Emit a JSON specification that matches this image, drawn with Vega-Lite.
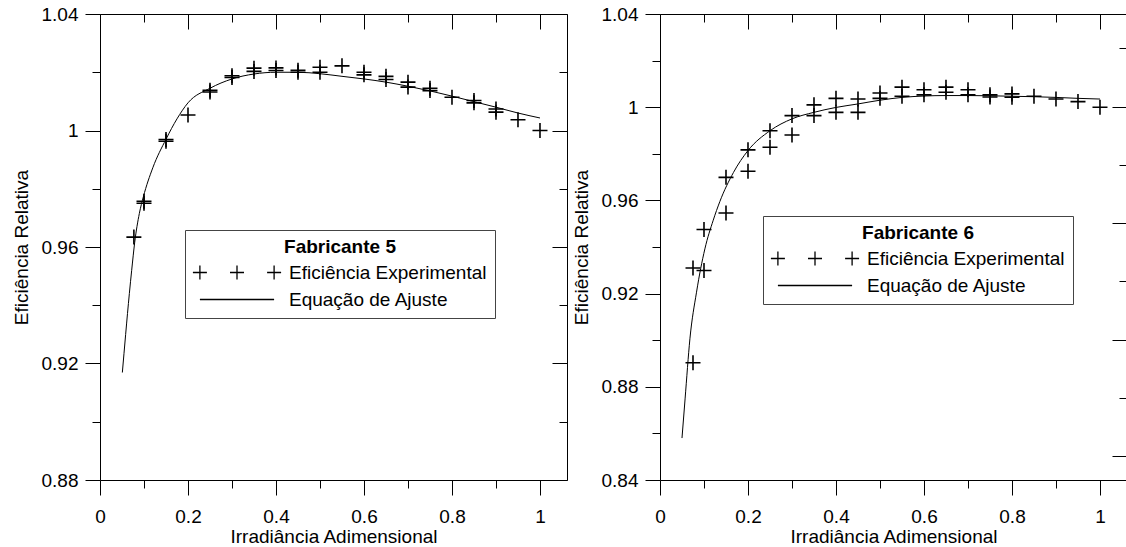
{
  "$schema": "https://vega.github.io/schema/vega-lite/v6.json",
  "background": "white",
  "padding": {"left": 12, "top": 5, "right": 0, "bottom": 0},
  "spacing": 4,
  "config": {
    "font": "Liberation Sans",
    "view": {"stroke": null},
    "axis": {
      "grid": false,
      "domainColor": "black",
      "domainWidth": 1,
      "tickColor": "black",
      "tickWidth": 1,
      "labelColor": "black",
      "titleColor": "black",
      "labelFont": "Liberation Sans",
      "titleFont": "Liberation Sans",
      "labelFontSize": 19,
      "titleFontSize": 19,
      "titleFontWeight": "normal",
      "labelFlush": false,
      "labelOverlap": false
    },
    "legend": {
      "orient": "none",
      "titleAnchor": "middle",
      "titleFont": "Liberation Sans",
      "titleFontSize": 19,
      "titleFontWeight": "bold",
      "titleColor": "black",
      "titlePadding": 6,
      "labelFont": "Liberation Sans",
      "labelFontSize": 19,
      "labelColor": "black",
      "labelLimit": 400,
      "symbolOffset": 34.5,
      "labelOffset": 42.5,
      "symbolSize": 196,
      "symbolStrokeWidth": 1.3,
      "symbolStrokeColor": "black",
      "symbolFillColor": "transparent",
      "symbolOpacity": 1,
      "strokeColor": "#444",
      "fillColor": "white",
      "padding": 8,
      "rowPadding": 7
    }
  },
  "resolve": {"scale": {"shape": "independent"}, "legend": {"shape": "independent"}},
  "datasets": {
    "fit5": [
      {"x": 0.0508, "y": 0.9169}, {"x": 0.0583, "y": 0.93}, {"x": 0.0667, "y": 0.944}, {"x": 0.072, "y": 0.952},
      {"x": 0.0788, "y": 0.9615}, {"x": 0.0894, "y": 0.9715}, {"x": 0.0985, "y": 0.9772}, {"x": 0.12, "y": 0.9872},
      {"x": 0.15, "y": 0.997}, {"x": 0.175, "y": 1.004}, {"x": 0.2, "y": 1.0095}, {"x": 0.25, "y": 1.0145},
      {"x": 0.3, "y": 1.0177}, {"x": 0.35, "y": 1.0194}, {"x": 0.4, "y": 1.02}, {"x": 0.45, "y": 1.02},
      {"x": 0.5, "y": 1.0195}, {"x": 0.55, "y": 1.0186}, {"x": 0.6, "y": 1.0177}, {"x": 0.65, "y": 1.0166},
      {"x": 0.7, "y": 1.0152}, {"x": 0.75, "y": 1.0136}, {"x": 0.8, "y": 1.0118}, {"x": 0.85, "y": 1.0099},
      {"x": 0.9, "y": 1.008}, {"x": 0.95, "y": 1.006}, {"x": 1.0, "y": 1.0043}
    ],
    "exp5": [
      {"x": 0.077, "y": 0.9634},
      {"x": 0.1, "y": 0.9757}, {"x": 0.1, "y": 0.975},
      {"x": 0.15, "y": 0.9969}, {"x": 0.15, "y": 0.9963},
      {"x": 0.2, "y": 1.0053},
      {"x": 0.25, "y": 1.0138}, {"x": 0.25, "y": 1.0132},
      {"x": 0.3, "y": 1.0188}, {"x": 0.3, "y": 1.0182},
      {"x": 0.35, "y": 1.0214}, {"x": 0.35, "y": 1.0203},
      {"x": 0.4, "y": 1.0215}, {"x": 0.4, "y": 1.0206},
      {"x": 0.45, "y": 1.0207}, {"x": 0.45, "y": 1.02},
      {"x": 0.5, "y": 1.0217}, {"x": 0.5, "y": 1.02},
      {"x": 0.55, "y": 1.0222},
      {"x": 0.6, "y": 1.02}, {"x": 0.6, "y": 1.0191},
      {"x": 0.65, "y": 1.0186}, {"x": 0.65, "y": 1.0175},
      {"x": 0.7, "y": 1.0166}, {"x": 0.7, "y": 1.0149},
      {"x": 0.75, "y": 1.0145}, {"x": 0.75, "y": 1.0137},
      {"x": 0.8, "y": 1.0114},
      {"x": 0.85, "y": 1.0103}, {"x": 0.85, "y": 1.0095},
      {"x": 0.9, "y": 1.0074}, {"x": 0.9, "y": 1.0063},
      {"x": 0.95, "y": 1.0037},
      {"x": 1.0, "y": 1.0}
    ],
    "fit6": [
      {"x": 0.05, "y": 0.858}, {"x": 0.057, "y": 0.8748}, {"x": 0.068, "y": 0.9006}, {"x": 0.083, "y": 0.9206},
      {"x": 0.102, "y": 0.9392}, {"x": 0.121, "y": 0.9515}, {"x": 0.136, "y": 0.9595}, {"x": 0.167, "y": 0.972},
      {"x": 0.2, "y": 0.9814}, {"x": 0.25, "y": 0.9899}, {"x": 0.3, "y": 0.995}, {"x": 0.35, "y": 0.9978},
      {"x": 0.4, "y": 0.9999}, {"x": 0.45, "y": 1.0014}, {"x": 0.5, "y": 1.003}, {"x": 0.55, "y": 1.0042},
      {"x": 0.6, "y": 1.0048}, {"x": 0.65, "y": 1.005}, {"x": 0.7, "y": 1.005}, {"x": 0.75, "y": 1.0049},
      {"x": 0.8, "y": 1.0047}, {"x": 0.85, "y": 1.0045}, {"x": 0.9, "y": 1.0042}, {"x": 0.95, "y": 1.0038},
      {"x": 1.0, "y": 1.0035}
    ],
    "exp6": [
      {"x": 0.075, "y": 0.8903}, {"x": 0.075, "y": 0.931},
      {"x": 0.1, "y": 0.9299}, {"x": 0.1, "y": 0.9475},
      {"x": 0.15, "y": 0.9546}, {"x": 0.15, "y": 0.9699},
      {"x": 0.2, "y": 0.9725}, {"x": 0.2, "y": 0.9817},
      {"x": 0.25, "y": 0.9828}, {"x": 0.25, "y": 0.9899},
      {"x": 0.3, "y": 0.9881}, {"x": 0.3, "y": 0.9964},
      {"x": 0.35, "y": 0.9964}, {"x": 0.35, "y": 1.001},
      {"x": 0.4, "y": 0.9978}, {"x": 0.4, "y": 1.0038},
      {"x": 0.45, "y": 0.9978}, {"x": 0.45, "y": 1.0035},
      {"x": 0.5, "y": 1.0038}, {"x": 0.5, "y": 1.0061},
      {"x": 0.55, "y": 1.0047}, {"x": 0.55, "y": 1.0086},
      {"x": 0.6, "y": 1.0053}, {"x": 0.6, "y": 1.0075},
      {"x": 0.65, "y": 1.0064}, {"x": 0.65, "y": 1.0086},
      {"x": 0.7, "y": 1.0053}, {"x": 0.7, "y": 1.0075},
      {"x": 0.75, "y": 1.0044}, {"x": 0.75, "y": 1.0053},
      {"x": 0.8, "y": 1.0043}, {"x": 0.8, "y": 1.0057},
      {"x": 0.85, "y": 1.0047},
      {"x": 0.9, "y": 1.0035},
      {"x": 0.95, "y": 1.0024},
      {"x": 1.0, "y": 1.0}
    ]
  },
  "hconcat": [
    {
      "width": 467,
      "height": 466,
      "resolve": {"scale": {"y": "independent"}, "axis": {"x": "independent", "y": "independent"}},
      "layer": [
        {
          "data": {"name": "fit5"},
          "mark": {"type": "line", "color": "black", "strokeWidth": 1, "interpolate": "monotone"},
          "encoding": {
            "x": {"field": "x", "type": "quantitative",
              "scale": {"domain": [0, 1.0614], "nice": false, "zero": false},
              "axis": {"orient": "bottom", "values": [0, 0.1, 0.2, 0.3, 0.4, 0.5, 0.6, 0.7, 0.8, 0.9, 1],
                "title": "Irradiância Adimensional",
                "tickSize": {"condition": {"test": "abs(datum.value/0.2 - round(datum.value/0.2)) < 0.01", "value": 15}, "value": 8},
                "labelExpr": "abs(datum.value/0.2 - round(datum.value/0.2)) < 0.01 ? format(datum.value, '.1~f') : ''",
                "labelPadding": 12, "titlePadding": 1}},
            "y": {"field": "y", "type": "quantitative",
              "scale": {"domain": [0.88, 1.04], "nice": false, "zero": false},
              "axis": {"orient": "left", "values": [0.88, 0.9, 0.92, 0.94, 0.96, 0.98, 1, 1.02, 1.04],
                "title": "Eficiência Relativa",
                "tickSize": {"condition": {"test": "abs(datum.value/0.04 - round(datum.value/0.04)) < 0.01", "value": 15}, "value": 8},
                "labelExpr": "abs(datum.value/0.04 - round(datum.value/0.04)) < 0.01 ? format(datum.value, '.2~f') : ''",
                "labelPadding": 7, "titlePadding": 10}}
          }
        },
        {
          "data": {"name": "exp5"},
          "mark": {"type": "point", "shape": "M-1,0H1M0,-1V1", "size": 225, "filled": false, "color": "black", "strokeWidth": 1.6, "opacity": 1},
          "encoding": {
            "x": {"field": "x", "type": "quantitative",
              "scale": {"domain": [0, 1.0614], "nice": false, "zero": false},
              "axis": {"orient": "top", "values": [0, 0.1, 0.2, 0.3, 0.4, 0.5, 0.6, 0.7, 0.8, 0.9, 1],
                "title": null, "labels": false,
                "tickSize": {"condition": {"test": "abs(datum.value/0.2 - round(datum.value/0.2)) < 0.01", "value": -15}, "value": -8}}},
            "y": {"field": "y", "type": "quantitative",
              "scale": {"domain": [0.88, 1.04], "nice": false, "zero": false},
              "axis": null}
          }
        },
        {
          "data": {"name": "exp5"},
          "mark": {"type": "point", "filled": false, "color": "black", "opacity": 0},
          "encoding": {
            "x": {"field": "x", "type": "quantitative", "scale": {"domain": [0, 1.0614], "nice": false, "zero": false}, "axis": null},
            "y": {"field": "y", "type": "quantitative", "scale": {"domain": [0.88, 1.04], "nice": false, "zero": false},
              "axis": {"orient": "right", "values": [0.88, 0.9, 0.92, 0.94, 0.96, 0.98, 1, 1.02, 1.04],
                "title": null, "labels": false,
                "tickSize": {"condition": {"test": "abs(datum.value/0.04 - round(datum.value/0.04)) < 0.01", "value": -15}, "value": -8}}},
            "shape": {"datum": "Eficiência Experimental", "type": "nominal",
              "scale": {"domain": ["Eficiência Experimental", "Equação de Ajuste"],
                "range": ["M-6.3,0H-4.3M-5.3,-1V1M-1,0H1M0,-1V1M4.3,0H6.3M5.3,-1V1", "M-5.3,0H5.3"]},
              "legend": {"title": "Fabricante 5", "orient": "none", "legendX": 85, "legendY": 216}}
          }
        }
      ]
    },
    {
      "width": 467,
      "height": 466,
      "resolve": {"scale": {"y": "independent"}, "axis": {"x": "independent", "y": "independent"}},
      "layer": [
        {
          "data": {"name": "fit6"},
          "mark": {"type": "line", "color": "black", "strokeWidth": 1, "interpolate": "monotone"},
          "encoding": {
            "x": {"field": "x", "type": "quantitative",
              "scale": {"domain": [0, 1.0614], "nice": false, "zero": false},
              "axis": {"orient": "bottom", "values": [0, 0.1, 0.2, 0.3, 0.4, 0.5, 0.6, 0.7, 0.8, 0.9, 1],
                "title": "Irradiância Adimensional",
                "tickSize": {"condition": {"test": "abs(datum.value/0.2 - round(datum.value/0.2)) < 0.01", "value": 15}, "value": 8},
                "labelExpr": "abs(datum.value/0.2 - round(datum.value/0.2)) < 0.01 ? format(datum.value, '.1~f') : ''",
                "labelPadding": 12, "titlePadding": 1}},
            "y": {"field": "y", "type": "quantitative",
              "scale": {"domain": [0.84, 1.04], "nice": false, "zero": false},
              "axis": {"orient": "left", "values": [0.84, 0.86, 0.88, 0.9, 0.92, 0.94, 0.96, 0.98, 1, 1.02, 1.04],
                "title": "Eficiência Relativa",
                "tickSize": {"condition": {"test": "abs(datum.value/0.04 - round(datum.value/0.04)) < 0.01", "value": 15}, "value": 8},
                "labelExpr": "abs(datum.value/0.04 - round(datum.value/0.04)) < 0.01 ? format(datum.value, '.2~f') : ''",
                "labelPadding": 7, "titlePadding": 10}}
          }
        },
        {
          "data": {"name": "exp6"},
          "mark": {"type": "point", "shape": "M-1,0H1M0,-1V1", "size": 225, "filled": false, "color": "black", "strokeWidth": 1.6, "opacity": 1},
          "encoding": {
            "x": {"field": "x", "type": "quantitative",
              "scale": {"domain": [0, 1.0614], "nice": false, "zero": false},
              "axis": {"orient": "top", "values": [0, 0.1, 0.2, 0.3, 0.4, 0.5, 0.6, 0.7, 0.8, 0.9, 1],
                "title": null, "labels": false,
                "tickSize": {"condition": {"test": "abs(datum.value/0.2 - round(datum.value/0.2)) < 0.01", "value": -15}, "value": -8}}},
            "y": {"field": "y", "type": "quantitative",
              "scale": {"domain": [0.84, 1.04], "nice": false, "zero": false},
              "axis": null}
          }
        },
        {
          "data": {"name": "exp6"},
          "mark": {"type": "point", "filled": false, "color": "black", "opacity": 0},
          "encoding": {
            "x": {"field": "x", "type": "quantitative", "scale": {"domain": [0, 1.0614], "nice": false, "zero": false}, "axis": null},
            "y": {"field": "y", "type": "quantitative", "scale": {"domain": [0.87176, 1.03176], "nice": false, "zero": false},
              "axis": {"orient": "right", "values": [0.88, 0.9, 0.92, 0.94, 0.96, 0.98, 1, 1.02],
                "title": null, "labels": false,
                "tickSize": {"condition": {"test": "abs(datum.value/0.04 - round(datum.value/0.04)) < 0.01", "value": -15}, "value": -8}}},
            "shape": {"datum": "Eficiência Experimental", "type": "nominal",
              "scale": {"domain": ["Eficiência Experimental", "Equação de Ajuste"],
                "range": ["M-6.3,0H-4.3M-5.3,-1V1M-1,0H1M0,-1V1M4.3,0H6.3M5.3,-1V1", "M-5.3,0H5.3"]},
              "legend": {"title": "Fabricante 6", "orient": "none", "legendX": 103, "legendY": 202}}
          }
        }
      ]
    }
  ]
}
